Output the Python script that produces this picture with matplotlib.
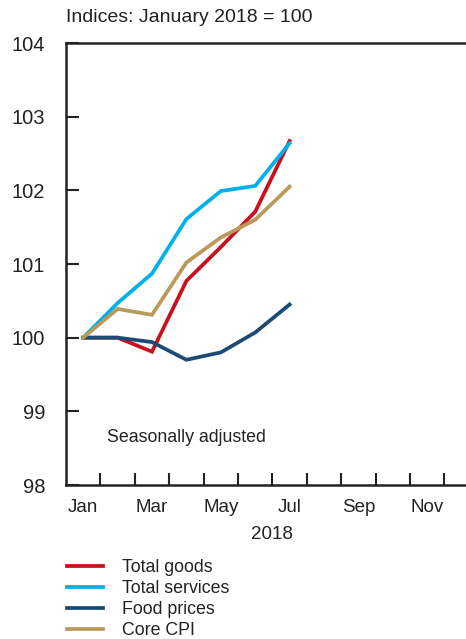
import matplotlib.pyplot as plt
import numpy as np

plt.rcParams["font.family"] = ["Liberation Sans", "DejaVu Sans"]

# Month index, Jan = 0 (plotted at the month centre)
months = ["Jan", "Feb", "Mar", "Apr", "May", "Jun", "Jul"]
total_goods = [100.0, 100.0, 99.81, 100.77, 101.23, 101.71, 102.67]
total_services = [100.0, 100.47, 100.87, 101.61, 101.99, 102.06, 102.64]
food_prices = [100.0, 100.0, 99.94, 99.70, 99.80, 100.07, 100.45]
core_cpi = [100.0, 100.39, 100.31, 101.02, 101.36, 101.60, 102.05]

month_labels = ["Jan", "Mar", "May", "Jul", "Sep", "Nov"]
y_ticks = [98, 99, 100, 101, 102, 103, 104]

series = [
    ("Total goods", total_goods, "#c8101e"),
    ("Total services", total_services, "#00b1ec"),
    ("Food prices", food_prices, "#1b4b74"),
    ("Core CPI", core_cpi, "#b99a5c"),
]

fig = plt.figure(figsize=(4.66, 6.39), dpi=100)
ax = fig.add_axes([66 / 466, 1 - 485 / 639, 1 - 66 / 466, (485 - 43) / 639])

x = np.arange(len(months)) + 0.5
for label, vals, col in series:
    ax.plot(x, vals, color=col, lw=2.7, label=label, solid_joinstyle="miter")

ax.set_xlim(0, 400 / 34.4)
ax.set_ylim(98, 104)

# month boundaries get the tick marks, labels sit at month centres
ax.set_xticks(np.arange(1, 12))
ax.set_xticklabels([])
ax.set_xticks(np.arange(0, 12, 2) + 0.5, minor=True)
ax.set_xticklabels(month_labels, minor=True)
ax.tick_params(axis="x", which="major", direction="in", length=9, width=1.5, color="#222222")
ax.tick_params(axis="x", which="minor", length=0, pad=10, labelsize=13.5, labelcolor="#222222")

ax.set_yticks(y_ticks)
ax.tick_params(axis="y", direction="in", length=9, width=1.5, color="#222222",
               pad=15, labelsize=14.5, labelcolor="#222222")

for side in ["left", "bottom", "top"]:
    ax.spines[side].set_linewidth(1.8)
    ax.spines[side].set_color("#222222")
ax.spines["right"].set_visible(False)

ax.text(6, -0.113, "2018", transform=ax.get_xaxis_transform(), ha="center",
        va="center", fontsize=13.5, color="#222222")
ax.text(1.19, 98.64, "Seasonally adjusted", ha="left", va="center",
        fontsize=12.8, color="#222222")

fig.text(66 / 466, 1 - 18 / 639, "Indices: January 2018 = 100", ha="left",
         va="center", fontsize=14, color="#222222")

fig.legend(loc="upper left", bbox_to_anchor=(67 / 466, 1 - 559 / 639),
           frameon=False, fontsize=12.8, handlelength=2.0, handletextpad=1.1,
           labelspacing=0.22, borderpad=0, borderaxespad=0,
           labelcolor="#222222")

fig.savefig("out.png", dpi=100)
